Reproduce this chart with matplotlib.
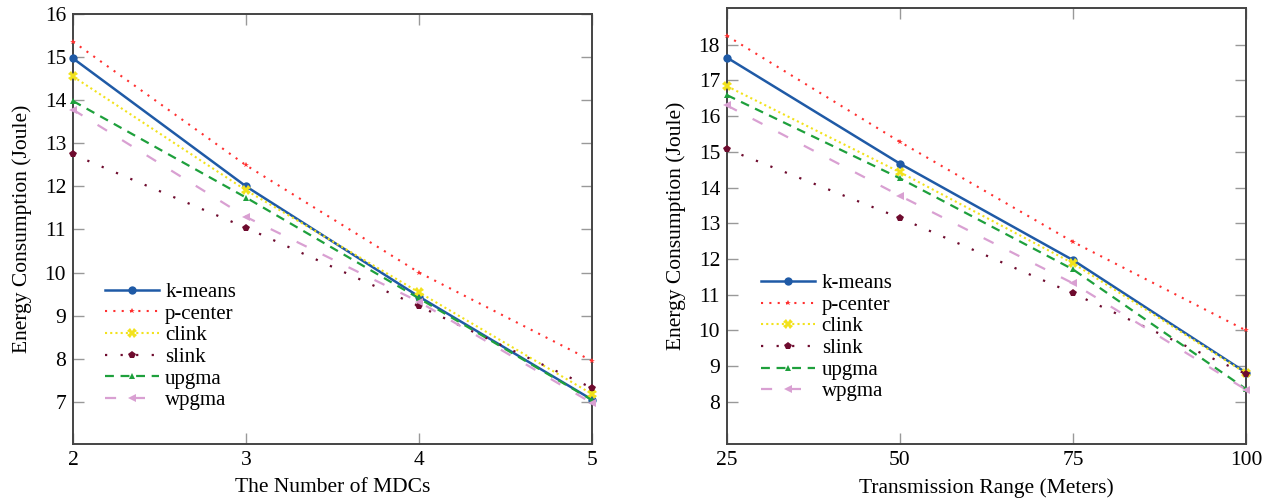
import matplotlib
matplotlib.use("Agg")
import matplotlib.pyplot as plt

# データ
mdcs = [2, 3, 4, 5]
ranges = [25, 50, 75, 100]
labels = ["k-means", "p-center", "clink", "slink", "upgma", "wpgma"]

mdc_kmeans = [14.97, 12.00, 9.44, 7.05]
mdc_pcenter = [15.36, 12.49, 10.00, 7.95]
mdc_clink = [14.55, 11.91, 9.54, 7.18]
mdc_slink = [12.74, 11.04, 9.22, 7.32]
mdc_upgma = [13.98, 11.74, 9.40, 7.04]
mdc_wpgma = [13.78, 11.29, 9.32, 6.97]

rng_kmeans = [17.64, 14.67, 11.97, 8.82]
rng_pcenter = [18.25, 15.28, 12.48, 10.00]
rng_clink = [16.84, 14.43, 11.88, 8.80]
rng_slink = [15.08, 13.15, 11.04, 8.78]
rng_upgma = [16.59, 14.26, 11.71, 8.36]
rng_wpgma = [16.30, 13.77, 11.32, 8.34]

# スタイル
styles = [
    dict(color="#1f5aa6", ls="-", lw=1.8, marker="o", ms=6),
    dict(color="#ff3030", ls=(0, (1, 3)), lw=1.5, marker="*", ms=4),
    dict(color="#f2e21c", ls=(0, (1, 1.5)), lw=1.5, marker="X", ms=7),
    dict(color="#6e0b2e", ls=(0, (1, 6)), lw=1.6, marker="p", ms=6),
    dict(color="#1ea03c", ls=(0, (4, 3)), lw=1.6, marker="^", ms=5),
    dict(color="#d9a0d2", ls=(0, (5, 8)), lw=1.6, marker="<", ms=6),
]

plt.rcParams["font.family"] = ["Liberation Serif", "DejaVu Serif"]

fig = plt.figure(figsize=(12.79, 5.0), dpi=100)
ax1 = fig.add_axes([73 / 1279, 56 / 500, 519 / 1279, 430 / 500])
ax2 = fig.add_axes([727 / 1279, 56 / 500, 519 / 1279, 436 / 500])


def draw(ax, x, series, xlabel, ylim, yticks, legend_anchor):
    for y, lab, st in zip(series, labels, styles):
        ax.plot(x, y, label=lab, color=st["color"], linestyle=st["ls"],
                linewidth=st["lw"], marker=st["marker"], markersize=st["ms"],
                markeredgewidth=0, clip_on=False, zorder=3)
    ax.set_xlim(x[0], x[-1])
    ax.set_ylim(*ylim)
    ax.set_xticks(x)
    ax.set_yticks(yticks)
    ax.tick_params(direction="in", length=8, width=1, color="#999999",
                   labelsize=15.5, top=True, right=True, pad=5)
    for sp in ax.spines.values():
        sp.set_color("#444444")
        sp.set_linewidth(1.4)
    ax.set_xlabel(xlabel, fontsize=15.5, labelpad=6)
    ax.set_ylabel("Energy Consumption (Joule)", fontsize=15.5, labelpad=9)
    ax.legend(loc="upper left", bbox_to_anchor=legend_anchor, frameon=False,
              fontsize=15, handlelength=2.6, labelspacing=0.1,
              handletextpad=0.3, borderaxespad=0)


draw(ax1, mdcs,
     [mdc_kmeans, mdc_pcenter, mdc_clink, mdc_slink, mdc_upgma, mdc_wpgma],
     "The Number of MDCs", (6.02, 16.0), range(7, 17), (0.045, 0.395))
draw(ax2, ranges,
     [rng_kmeans, rng_pcenter, rng_clink, rng_slink, rng_upgma, rng_wpgma],
     "Transmission Range (Meters)", (6.82, 19.03), range(8, 19), (0.05, 0.41))

fig.savefig("out.png", dpi=100)
